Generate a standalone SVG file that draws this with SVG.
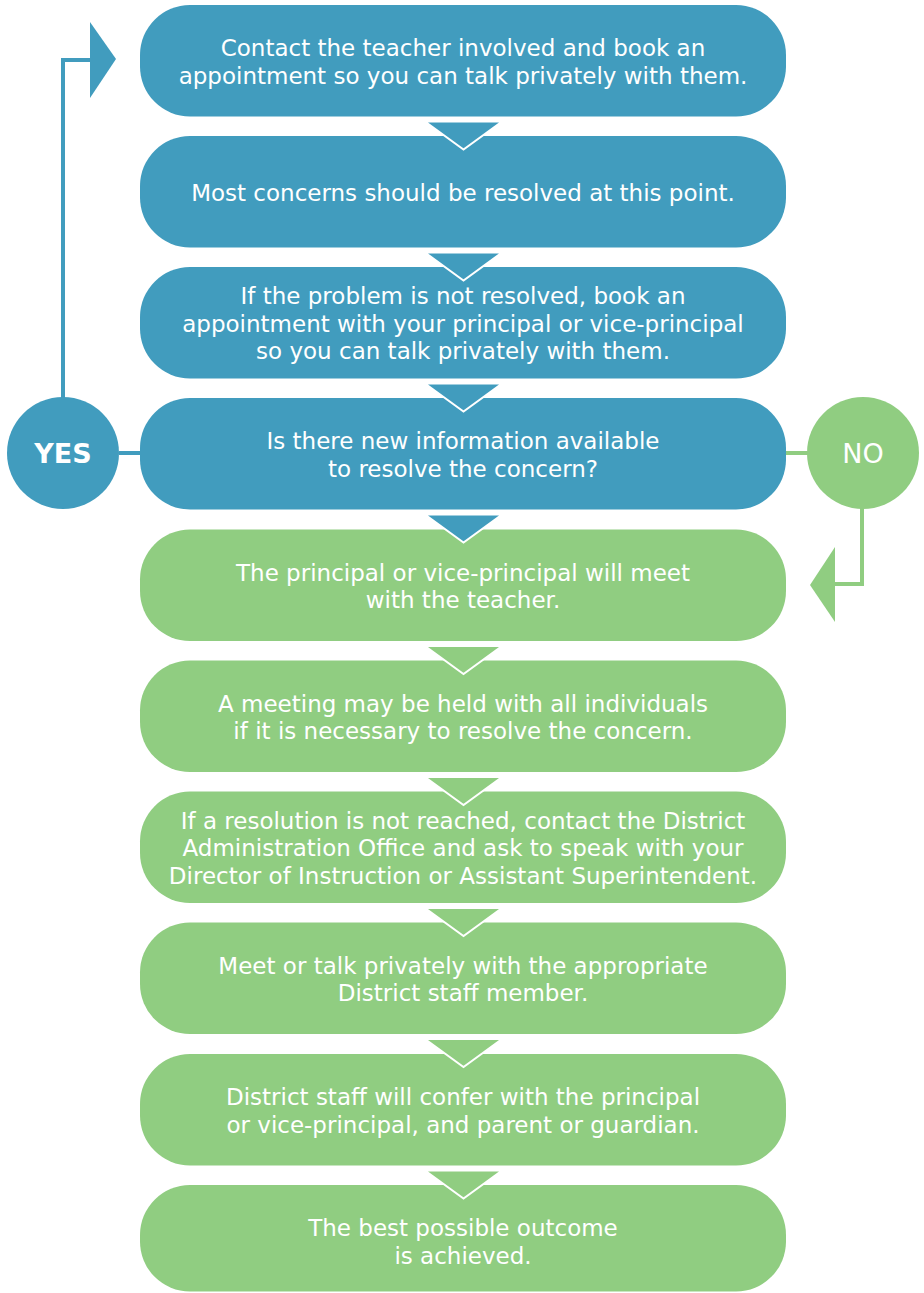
<svg xmlns="http://www.w3.org/2000/svg" width="924" height="1293" viewBox="0 0 924 1293">
<style>
.b{fill:#419cbe}
.g{fill:#90cd81}
.t{fill:#fff;font-family:"DejaVu Sans","Liberation Sans",sans-serif;font-size:23px;text-anchor:middle}
.c{fill:#fff;font-family:"DejaVu Sans","Liberation Sans",sans-serif;font-size:27px;text-anchor:middle}
.lb{stroke:#419cbe;stroke-width:4;fill:none}
.lg{stroke:#90cd81;stroke-width:4;fill:none}
.chb{fill:#419cbe;stroke:#fff;stroke-width:2}
.chg{fill:#90cd81;stroke:#fff;stroke-width:2}
</style>
<g id="connectors">
<path class="lb" d="M119 453H142"/>
<path class="lb" d="M63 400V60H92"/>
<polygon class="b" points="90,22 90,98 116,59"/>
<path class="lg" d="M784 453H809"/>
<path class="lg" d="M862 506V584H834"/>
<polygon class="g" points="835,547 835,622 810,585"/>
</g>
<g id="yes"><circle class="b" cx="63" cy="453" r="56"/><text class="c" x="63" y="463" font-weight="bold" font-size="25">YES</text></g>
<g id="no"><circle class="g" cx="863" cy="453" r="56"/><text class="c" x="863" y="463">NO</text></g>
<g id="n1"><rect class="b" x="140" y="5" width="646" height="111.5" rx="50"/><text class="t" x="463" y="56">Contact the teacher involved and book an</text><text class="t" x="463" y="83.5">appointment so you can talk privately with them.</text></g>
<g id="n2"><rect class="b" x="140" y="136" width="646" height="111.5" rx="50"/><text class="t" x="463" y="200.75">Most concerns should be resolved at this point.</text></g>
<g id="n3"><rect class="b" x="140" y="267" width="646" height="111.5" rx="50"/><text class="t" x="463" y="304.25">If the problem is not resolved, book an</text><text class="t" x="463" y="331.75">appointment with your principal or vice-principal</text><text class="t" x="463" y="359.25">so you can talk privately with them.</text></g>
<g id="n4"><rect class="b" x="140" y="398" width="646" height="111.5" rx="50"/><text class="t" x="463" y="449">Is there new information available</text><text class="t" x="463" y="476.5">to resolve the concern?</text></g>
<g id="n5"><rect class="g" x="140" y="529.5" width="646" height="111.5" rx="50"/><text class="t" x="463" y="580.5">The principal or vice-principal will meet</text><text class="t" x="463" y="608">with the teacher.</text></g>
<g id="n6"><rect class="g" x="140" y="660.5" width="646" height="111.5" rx="50"/><text class="t" x="463" y="711.5">A meeting may be held with all individuals</text><text class="t" x="463" y="739">if it is necessary to resolve the concern.</text></g>
<g id="n7"><rect class="g" x="140" y="791.5" width="646" height="111.5" rx="50"/><text class="t" x="463" y="828.75">If a resolution is not reached, contact the District</text><text class="t" x="463" y="856.25">Administration Office and ask to speak with your</text><text class="t" x="463" y="883.75">Director of Instruction or Assistant Superintendent.</text></g>
<g id="n8"><rect class="g" x="140" y="922.5" width="646" height="111.5" rx="50"/><text class="t" x="463" y="973.5">Meet or talk privately with the appropriate</text><text class="t" x="463" y="1001">District staff member.</text></g>
<g id="n9"><rect class="g" x="140" y="1054" width="646" height="111.5" rx="50"/><text class="t" x="463" y="1105">District staff will confer with the principal</text><text class="t" x="463" y="1132.5">or vice-principal, and parent or guardian.</text></g>
<g id="n10"><rect class="g" x="140" y="1185" width="646" height="106.5" rx="50"/><text class="t" x="463" y="1236">The best possible outcome</text><text class="t" x="463" y="1263.5">is achieved.</text></g>
<g id="chevrons">
<polygon class="chb" points="425,121.5 502,121.5 463.5,149.5"/>
<polygon class="chb" points="425,252.5 502,252.5 463.5,280.5"/>
<polygon class="chb" points="425,383.5 502,383.5 463.5,411.5"/>
<polygon class="chb" points="425,514.5 502,514.5 463.5,542.5"/>
<polygon class="chg" points="425,646 502,646 463.5,674"/>
<polygon class="chg" points="425,777 502,777 463.5,805"/>
<polygon class="chg" points="425,908 502,908 463.5,936"/>
<polygon class="chg" points="425,1039 502,1039 463.5,1067"/>
<polygon class="chg" points="425,1170.5 502,1170.5 463.5,1198.5"/>
</g>
</svg>
